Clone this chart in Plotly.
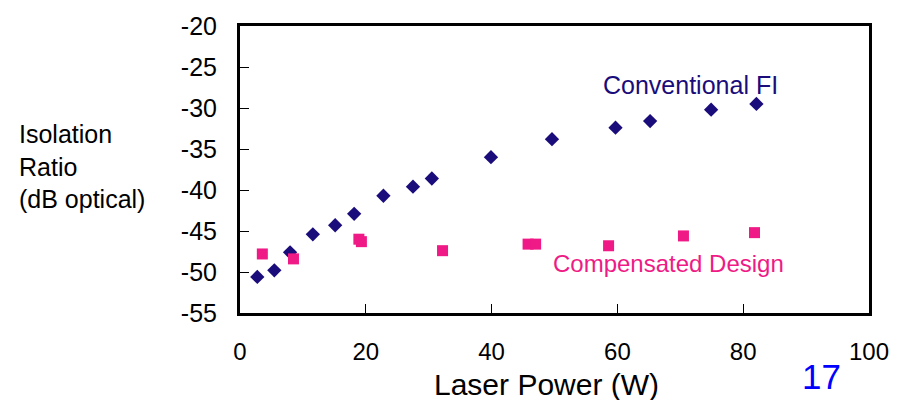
import plotly.graph_objects as go

# Data
conv_power = [2.75, 5.46, 7.96, 11.58, 15.13, 18.15, 22.8, 27.5, 30.5, 39.9, 49.6, 59.7, 65.2, 74.9, 82.1]
conv_iso = [-50.6, -49.8, -47.6, -45.4, -44.3, -42.9, -40.7, -39.6, -38.6, -36.0, -33.8, -32.4, -31.6, -30.2, -29.5]

comp_power = [3.55, 8.5, 18.9, 19.3, 32.2, 45.8, 47.0, 58.6, 70.5, 81.8]
comp_iso = [-47.8, -48.4, -46.0, -46.3, -47.4, -46.6, -46.6, -46.8, -45.6, -45.2]

x_ticks = [0, 20, 40, 60, 80, 100]
y_ticks = [-55, -50, -45, -40, -35, -30, -25, -20]

NAVY = "#1a0c7a"
PINK = "#ef1a86"
FONT = "Liberation Sans"

fig = go.Figure()
fig.add_trace(go.Scatter(
    x=conv_power, y=conv_iso, mode="markers",
    marker=dict(symbol="diamond", size=11, color=NAVY),
    name="Conventional FI", showlegend=False))
fig.add_trace(go.Scatter(
    x=comp_power, y=comp_iso, mode="markers",
    marker=dict(symbol="square", size=11, color=PINK),
    name="Compensated Design", showlegend=False))

axis_common = dict(
    showline=True, linecolor="black", linewidth=3, mirror=True,
    ticks="inside", ticklen=9, tickwidth=1, tickcolor="black",
    showgrid=False, zeroline=False,
    tickfont=dict(family=FONT, size=25, color="black"),
)

fig.update_xaxes(range=[0, 100], tickvals=x_ticks, ticktext=[str(v) for v in x_ticks],
                 ticklabelstandoff=15, tickfont=dict(family=FONT, size=24, color="black"),
                 **{k: v for k, v in axis_common.items() if k != "tickfont"})
fig.update_yaxes(range=[-55, -20], tickvals=y_ticks, ticktext=[str(v) for v in y_ticks],
                 ticklabelstandoff=15, **axis_common)

fig.update_layout(
    width=908, height=400,
    margin=dict(l=240, r=39, t=19, b=87),
    paper_bgcolor="white", plot_bgcolor="white",
    font=dict(family=FONT, color="black"),
    annotations=[
        dict(text="Conventional FI", x=71.7, y=-27.2, xref="x", yref="y",
             xanchor="center", yanchor="middle",
             showarrow=False, font=dict(family=FONT, size=25, color=NAVY)),
        dict(text="Compensated Design", x=68.2, y=-49.0, xref="x", yref="y",
             xanchor="center", yanchor="middle",
             showarrow=False, font=dict(family=FONT, size=24, color=PINK)),
        dict(text="Laser Power (W)", x=0.488, y=-0.248, xref="paper", yref="paper",
             xanchor="center", yanchor="middle",
             showarrow=False, font=dict(family=FONT, size=30, color="black")),
        dict(text="17", x=0.925, y=-0.221, xref="paper", yref="paper",
             xanchor="center", yanchor="middle",
             showarrow=False, font=dict(family=FONT, size=35, color="#0000ff")),
        dict(text="Isolation<br>Ratio<br>(dB optical)", x=-0.3545, y=0.51,
             xref="paper", yref="paper", xanchor="left", yanchor="middle", align="left",
             showarrow=False, font=dict(family=FONT, size=25, color="black")),
    ],
)

fig.write_html("out.html")
